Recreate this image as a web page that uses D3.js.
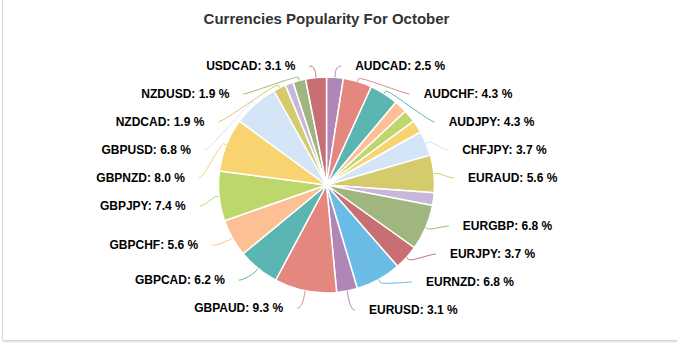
<!DOCTYPE html>
<html>
<head>
<meta charset="utf-8">
<script src="https://cdn.jsdelivr.net/npm/d3@7"></script>
<style>
  html, body { margin: 0; padding: 0; background: #fff; }
  svg { display: block; font-family: "Liberation Sans", Arial, Helvetica, sans-serif; }
</style>
</head>
<body>
<svg id="chart" width="677" height="345"></svg>
<script>
// Monthly popularity share of each currency pair (percent)
const chartTitle = "Currencies Popularity For October";
const pairs = [
  "AUDCAD", "AUDCHF", "AUDJPY", "AUDNZD", "AUDUSD", "CADJPY", "CHFJPY",
  "EURAUD", "EURCAD", "EURGBP", "EURJPY", "EURNZD", "EURUSD",
  "GBPAUD", "GBPCAD", "GBPCHF", "GBPJPY", "GBPNZD", "GBPUSD",
  "NZDCAD", "NZDJPY", "NZDUSD", "USDCAD"
];
const shares = [
  2.5, 4.3, 4.3, 1.9, 1.9, 1.9, 3.7,
  5.6, 1.9, 6.8, 3.7, 6.8, 3.1,
  9.3, 6.2, 5.6, 7.4, 8.0, 6.8,
  1.9, 1.2, 1.9, 3.1
];
const palette = [
  "#b086b6", "#e3877f", "#5bb5b0", "#fdbf94", "#bdd76d", "#f7d46f",
  "#d3e5f6", "#d4cb6d", "#c8b7d9", "#9fb77f", "#c76f72", "#6abce6"
];

// Layout
const width = 677, height = 345;
const cx = 326.5, cy = 185, radius = 108;
const labelDistance = 15;   // ring on which connectors end
const ringDrop = 4;         // the label ring sits slightly below the pie centre
const edgePad = 5;          // extra horizontal push of the connector end
const textGap = 14;         // space between connector end and the text
const slotHeight = 28;      // vertical room per label
const labelTop = 66, labelBottom = 310;

const svg = d3.select("#chart");

// Card outline with a faint shadow along the bottom
const card = svg.append("g");
card.append("line").attr("x1", 2.5).attr("x2", 2.5).attr("y1", 0).attr("y2", 340.5)
  .attr("stroke", "#d9d9d9");
card.append("line").attr("x1", 2.5).attr("x2", width).attr("y1", 340.5).attr("y2", 340.5)
  .attr("stroke", "#d6d6d6");
card.append("line").attr("x1", 3).attr("x2", width).attr("y1", 341.5).attr("y2", 341.5)
  .attr("stroke", "#e6e6e6");
card.append("line").attr("x1", 4).attr("x2", width).attr("y1", 342.5).attr("y2", 342.5)
  .attr("stroke", "#f2f2f2");

// Title
svg.append("text")
  .attr("x", cx).attr("y", 24)
  .attr("text-anchor", "middle")
  .attr("font-size", 15).attr("font-weight", "bold")
  .attr("fill", "#333333")
  .text(chartTitle);

const data = pairs.map((name, i) => ({ name, value: shares[i], color: palette[i % palette.length] }));
const pie = d3.pie().sort(null).value(d => d.value).startAngle(0).endAngle(2 * Math.PI);
const arcs = pie(data);
const arc = d3.arc().innerRadius(0).outerRadius(radius);

const plot = svg.append("g").attr("transform", `translate(${cx},${cy})`);

plot.selectAll("path.slice")
  .data(arcs)
  .join("path")
  .attr("class", "slice")
  .attr("d", arc)
  .attr("fill", d => d.data.color)
  .attr("stroke", "#ffffff")
  .attr("stroke-width", 1.5)
  .attr("stroke-linejoin", "round");

// ---- Label placement: two columns, distributed vertically ----
const ringR = radius + labelDistance;
const minY = labelTop - cy, maxY = labelBottom - cy;
const capacity = Math.floor((maxY - minY) / slotHeight) + 1;

const labels = arcs.map(a => {
  const mid = (a.startAngle + a.endAngle) / 2;
  return {
    arc: a,
    mid,
    side: mid < Math.PI ? 1 : -1,
    naturalY: -ringR * Math.cos(mid),
    rim: [radius * Math.sin(mid), -radius * Math.cos(mid)],
    brk: [(radius + 3) * Math.sin(mid), -(radius + 3) * Math.cos(mid)]
  };
});

const placed = [];
[1, -1].forEach(side => {
  let group = labels.filter(l => l.side === side);
  // keep the largest slices when a column runs out of room
  if (group.length > capacity) {
    const kept = new Set(group.slice().sort((a, b) => b.arc.data.value - a.arc.data.value).slice(0, capacity));
    group = group.filter(l => kept.has(l));
  }
  group.sort((a, b) => a.naturalY - b.naturalY);
  group.forEach((l, i) => {
    const prev = i ? group[i - 1].y : -Infinity;
    l.y = Math.max(l.naturalY, minY, prev + slotHeight);
  });
  for (let i = group.length - 1; i >= 0; i--) {
    const next = i < group.length - 1 ? group[i + 1].y : Infinity;
    group[i].y = Math.min(group[i].y, maxY, next - slotHeight);
  }
  group.forEach(l => {
    // labels pinned against the top or bottom keep their slice's own x
    const pinned = l.y <= minY + 2 || l.y >= maxY - 2;
    const reach = pinned
      ? ringR * Math.abs(Math.sin(l.mid))
      : Math.sqrt(Math.max(0, ringR * ringR - (l.y - ringDrop) ** 2));
    l.x = side * (reach + edgePad);
    placed.push(l);
  });
});

// Connectors: soft curve from the label into a short radial stub on the slice
plot.selectAll("path.connector")
  .data(placed)
  .join("path")
  .attr("class", "connector")
  .attr("fill", "none")
  .attr("stroke", d => d.arc.data.color)
  .attr("stroke-width", 1)
  .attr("d", d => {
    const c2x = 2 * d.brk[0] - d.rim[0], c2y = 2 * d.brk[1] - d.rim[1];
    return `M${d.x},${d.y} C${d.x - d.side * 5},${d.y} ${c2x},${c2y} ${d.brk[0]},${d.brk[1]} L${d.rim[0]},${d.rim[1]}`;
  });

plot.selectAll("text.label")
  .data(placed)
  .join("text")
  .attr("class", "label")
  .attr("x", d => d.x + d.side * textGap)
  .attr("y", d => d.y + 4)
  .attr("text-anchor", d => d.side > 0 ? "start" : "end")
  .attr("font-size", 12).attr("font-weight", "bold")
  .attr("fill", "#000000")
  .attr("stroke", "#ffffff").attr("stroke-width", 2)
  .attr("paint-order", "stroke")
  .attr("stroke-linejoin", "round")
  .text(d => `${d.arc.data.name}: ${d.arc.data.value.toFixed(1)} %`);
</script>
</body>
</html>
